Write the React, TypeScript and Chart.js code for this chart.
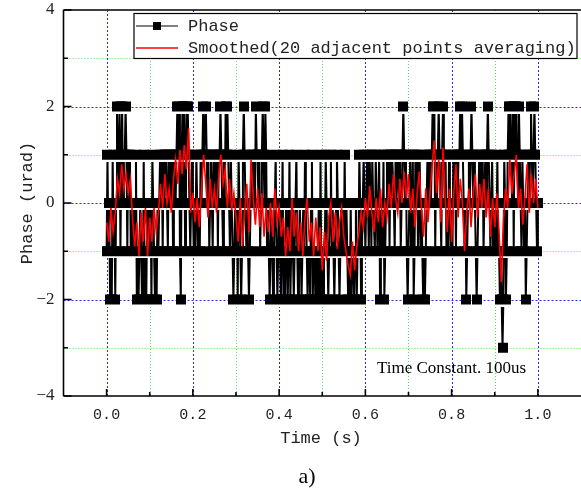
import React, { useEffect, useRef } from "react";
import { Chart, registerables } from "chart.js";

Chart.register(...registerables);

// ---------- data ----------
const PHASE_STEP = 0.002; // s between phase samples
const SMOOTH_STEP = 0.005; // s between smoothed samples

// Phase (urad), quantised samples, 25 per 0.05 s
const phase_000 = [-1,1,-1,0,-2,-1,-2,1,-1,0,-2,0,2,1,0,2,-1,1,2,0,1,1,2,1,-1];
const phase_005 = [1,0,1,-1,0,-1,-1,0,-1,1,-2,-1,-2,-1,0,-1,-2,-2,1,-2,-1,-2,0,-1,0];
const phase_010 = [-1,0,-2,1,0,-1,-2,-1,-2,0,-1,0,1,0,1,-1,1,0,1,1,0,-1,1,0,1];
const phase_015 = [0,1,-1,1,1,0,1,2,1,2,-1,-2,1,2,0,2,-1,1,2,2,1,0,-1,0,1];
const phase_020 = [0,-1,0,-1,1,0,-1,0,-1,1,0,1,2,1,1,2,1,0,1,-1,0,1,0,-1,1];
const phase_025 = [0,1,0,1,-1,1,1,2,1,0,-1,1,0,2,1,2,1,0,-1,1,0,-1,-2,-1,0];
const phase_030 = [-1,0,-2,1,0,-1,-2,-1,1,2,1,0,-1,0,-1,-2,-1,0,1,0,1,1,0,2,1];
const phase_035 = [1,0,1,-1,0,1,2,1,0,2,1,-1,0,-1,-2,-1,0,-1,-2,-1,0,1,-1,-2,-1];
const phase_040 = [0,-1,-2,-1,1,-2,-1,-2,0,-1,-2,-1,1,-2,-1,0,-1,-2,-1,0,1,-1,-2,-1,0];
const phase_045 = [-1,-2,-1,0,-1,1,0,-1,-2,-1,-1,-2,0,1,-2,-1,-1,-2,-1,-2,-1,0,-2,1,-2];
const phase_050 = [-1,-2,-1,-1,1,0,-1,-2,-1,0,1,-1,0,-1,-2,-1,0,1,0,-1,-2,-1,0,-1,0];
const phase_055 = [-1,1,-1,0,-1,-2,-1,-2,0,-2,-1,-1,-2,-1,0,-2,-1,-1,1,0,-2,-1,0,1,0];
const phase_060 = [-1,0,1,0,-1,1,0,-1,1,0,0,-1,1,0,-1,0,1,-2,-1,0,-1,1,-2,-1,0];
const phase_065 = [1,0,1,-1,1,0,1,1,0,-1,1,0,1,1,0,1,-1,0,1,2,1,0,1,-1,-2];
const phase_070 = [-1,0,1,-1,0,1,-2,-1,1,0,1,-1,0,1,-1,0,-1,-2,-1,-2,-1,0,1,0,1];
const phase_075 = [1,0,1,2,1,2,-1,1,0,1,2,1,0,-1,1,2,1,0,1,-1,0,-1,1,0,-1];
const phase_080 = [0,-1,1,0,1,-1,1,0,1,1,2,1,2,1,0,-1,0,-2,-1,0,1,0,1,2,1];
const phase_085 = [0,1,0,-1,-2,-1,0,1,0,1,0,1,-1,0,1,0,1,2,1,0,-1,0,1,-1,0];
const phase_090 = [-1,0,-1,1,-1,-1,-2,-1,-2,-3,-2,1,0,-2,-1,1,2,1,2,1,0,2,-1,2,1];
const phase_095 = [2,1,0,2,1,0,-1,1,0,-1,0,-2,-1,0,1,0,1,2,1,0,1,2,1,0,-1,0];

// Smoothed (20 adjacent points averaging), 20 per 0.1 s
const smooth_00 = [-0.4,-0.8,-0.1,-0.6,-0.2,0.5,0.2,0.8,0.3,0.6,0.2,0.5,-0.3,-0.9,-0.4,-1.1,-0.2,-0.8,-0.1,-1.1];
const smooth_01 = [-0.3,-0.8,-0.1,-0.6,-0.2,0.4,-0.1,0.6,0.0,0.3,-0.2,0.5,0.9,0.4,1.1,0.6,1.2,0.7,1.55,-0.2];
const smooth_02 = [0.2,-0.4,0.1,-0.5,0.3,1.0,0.4,-0.3,0.5,-0.1,0.3,-0.2,0.6,1.0,0.4,0.7,-0.1,0.5,-0.15,0.2];
const smooth_03 = [-0.3,-0.8,0.1,-0.9,-0.2,0.4,-0.6,0.9,0.1,-0.45,0.3,-0.5,0.2,-0.7,-0.1,-0.6,0.0,-0.7,0.3,-0.4];
const smooth_04 = [-0.1,-0.7,-0.3,-1.1,-0.5,-1.0,0.1,-0.7,-0.2,-1.0,-0.4,-1.1,-0.3,0.1,-0.8,-0.4,-1.1,-0.3,-1.0,-0.5];
const smooth_05 = [-1.4,-0.6,-1.2,-0.3,0.0,-0.8,-0.2,-0.95,-0.4,-0.1,-0.7,-1.0,-1.3,-1.5,-0.8,-1.4,-0.9,-0.6,-0.2,-0.5];
const smooth_06 = [0.1,-0.3,0.35,-0.2,-0.6,0.1,-0.4,0.3,-0.5,0.0,-0.3,0.4,-0.1,0.6,0.1,-0.2,0.5,0.0,0.65,0.1];
const smooth_07 = [0.6,-0.2,0.3,-0.5,0.2,0.65,-0.1,-0.7,0.3,-0.4,0.2,0.8,1.3,0.2,0.9,-0.4,1.15,0.1,-0.6,0.3];
const smooth_08 = [-0.8,0.2,0.8,-0.3,0.5,0.0,-1.0,-0.2,0.3,-0.5,0.2,0.6,-0.3,0.4,-0.1,0.5,-0.3,0.3,-0.7,0.1];
const smooth_09 = [-0.5,0.2,-0.6,-1.64,-0.4,0.3,-0.1,0.9,0.2,0.6,1.0,-0.1,0.3,-0.45,0.1,0.8,-0.2,0.6,0.0,0.5,-0.1];

// axes
const X_MIN = -0.1;
const X_MAX = 1.1;
const Y_MIN = -4;
const Y_MAX = 4;
const X_TICKS = [0, 0.2, 0.4, 0.6, 0.8, 1.0];
const X_MINOR = [0.1, 0.3, 0.5, 0.7, 0.9];
const Y_TICKS = [-4, -2, 0, 2, 4];
const Y_MINOR = [-3, -1, 1, 3];
const Y_GRID_MAJOR = [-2, 0, 2];

const SERIES_PHASE = "Phase";
const SERIES_SMOOTH = "Smoothed(20 adjacent points averaging)";
const X_TITLE = "Time (s)";
const Y_TITLE = "Phase (urad)";
const NOTE = "Time Constant. 100us";
const CAPTION = "a)";

const phaseValues = [
  ...phase_000, ...phase_005, ...phase_010, ...phase_015, ...phase_020,
  ...phase_025, ...phase_030, ...phase_035, ...phase_040, ...phase_045,
  ...phase_050, ...phase_055, ...phase_060, ...phase_065, ...phase_070,
  ...phase_075, ...phase_080, ...phase_085, ...phase_090, ...phase_095,
];
const smoothValues = [
  ...smooth_00, ...smooth_01, ...smooth_02, ...smooth_03, ...smooth_04,
  ...smooth_05, ...smooth_06, ...smooth_07, ...smooth_08, ...smooth_09,
];

const MONO = '"Liberation Mono", "DejaVu Sans Mono", monospace';
const SERIF = '"Liberation Serif", "DejaVu Serif", serif';

function fmtY(v: number) {
  return v < 0 ? "\u2212" + Math.abs(v) : String(v);
}

function makeMarker() {
  const c = document.createElement("canvas");
  c.width = 10;
  c.height = 14;
  const g = c.getContext("2d")!;
  g.fillStyle = "#000";
  g.fillRect(0, 2, 10, 10);
  g.fillStyle = "#fff";
  g.fillRect(0, 12, 10, 2);
  return c;
}

const decorPlugin = {
  id: "decor",
  beforeDatasetsDraw(chart: any) {
    const { ctx, chartArea: a, scales } = chart;
    const xs = scales.x;
    const ys = scales.y;
    ctx.save();
    ctx.lineWidth = 1;
    ctx.strokeStyle = "#55dd55";
    ctx.setLineDash([1, 2]);
    for (const v of X_MINOR) {
      const px = Math.round(xs.getPixelForValue(v)) + 0.5;
      ctx.beginPath(); ctx.moveTo(px, a.top); ctx.lineTo(px, a.bottom); ctx.stroke();
    }
    for (const v of Y_MINOR) {
      const py = Math.round(ys.getPixelForValue(v)) + 0.5;
      ctx.beginPath(); ctx.moveTo(a.left, py); ctx.lineTo(a.right, py); ctx.stroke();
    }
    ctx.strokeStyle = "#2a2aff";
    ctx.setLineDash([2, 2]);
    for (const v of X_TICKS) {
      const px = Math.round(xs.getPixelForValue(v)) + 0.5;
      ctx.beginPath(); ctx.moveTo(px, a.top); ctx.lineTo(px, a.bottom); ctx.stroke();
    }
    for (const v of Y_GRID_MAJOR) {
      const py = Math.round(ys.getPixelForValue(v)) + 0.5;
      ctx.beginPath(); ctx.moveTo(a.left, py); ctx.lineTo(a.right, py); ctx.stroke();
    }
    ctx.restore();
  },
  afterDatasetsDraw(chart: any) {
    const { ctx, chartArea: a, scales } = chart;
    const xs = scales.x;
    const ys = scales.y;
    ctx.save();
    ctx.setLineDash([]);
    ctx.strokeStyle = "#000";
    ctx.lineWidth = 1.6;
    ctx.beginPath();
    ctx.moveTo(a.left, a.top); ctx.lineTo(a.right + 2, a.top);
    ctx.moveTo(a.left, a.top); ctx.lineTo(a.left, a.bottom);
    ctx.moveTo(a.left, a.bottom); ctx.lineTo(a.right + 2, a.bottom);
    ctx.stroke();
    ctx.beginPath();
    for (const v of Y_TICKS) {
      const py = ys.getPixelForValue(v);
      ctx.moveTo(a.left, py); ctx.lineTo(a.left + 8, py);
    }
    for (const v of Y_MINOR) {
      const py = ys.getPixelForValue(v);
      ctx.moveTo(a.left, py); ctx.lineTo(a.left + 4.5, py);
    }
    for (const v of X_TICKS) {
      const px = xs.getPixelForValue(v);
      ctx.moveTo(px, a.bottom); ctx.lineTo(px, a.bottom - 7);
    }
    for (const v of X_MINOR) {
      const px = xs.getPixelForValue(v);
      ctx.moveTo(px, a.bottom); ctx.lineTo(px, a.bottom - 4);
    }
    ctx.stroke();

    // legend box
    const lx = a.left + 70.5;
    const ly = a.top + 3.5;
    const lw = 443;
    const lh = 45;
    ctx.fillStyle = "#fff";
    ctx.fillRect(lx, ly, lw, lh);
    ctx.lineWidth = 1.2;
    ctx.strokeStyle = "#000";
    ctx.strokeRect(lx, ly, lw, lh);
    const r1 = ly + 12.5;
    const r2 = ly + 34.5;
    ctx.lineWidth = 1;
    ctx.beginPath(); ctx.moveTo(lx + 2, r1); ctx.lineTo(lx + 44, r1); ctx.stroke();
    ctx.fillStyle = "#000";
    ctx.fillRect(lx + 19, r1 - 4, 8, 8);
    ctx.strokeStyle = "#ff0000";
    ctx.lineWidth = 1.5;
    ctx.beginPath(); ctx.moveTo(lx + 2, r2); ctx.lineTo(lx + 44, r2); ctx.stroke();
    ctx.fillStyle = "#222";
    ctx.font = '17px ' + MONO;
    ctx.textBaseline = "middle";
    ctx.textAlign = "left";
    ctx.fillText(SERIES_PHASE, lx + 54, r1 + 0.5);
    ctx.fillText(SERIES_SMOOTH, lx + 54, r2 + 0.5);

    ctx.fillStyle = "#000";
    ctx.font = '17px ' + SERIF;
    ctx.fillText(NOTE, 377, 369);
    ctx.restore();
  },
  afterDraw(chart: any) {
    const { ctx, chartArea: a } = chart;
    ctx.save();
    ctx.fillStyle = "#222";
    ctx.textBaseline = "middle";
    ctx.textAlign = "center";
    ctx.font = '17px ' + MONO;
    ctx.fillText(X_TITLE, 321, 438);
    ctx.save();
    ctx.translate(27, (a.top + a.bottom) / 2);
    ctx.rotate(-Math.PI / 2);
    ctx.fillText(Y_TITLE, 0, 0);
    ctx.restore();
    ctx.fillStyle = "#000";
    ctx.font = '22px ' + SERIF;
    ctx.fillText(CAPTION, 307, 477);
    ctx.restore();
  },
};

export default function App() {
  const ref = useRef<HTMLCanvasElement | null>(null);
  useEffect(() => {
    document.body.style.margin = "0";
    document.body.style.overflow = "hidden";
    const canvas = ref.current;
    if (!canvas) return;
    const marker = makeMarker();
    const phaseData = phaseValues.map((y, i) => ({ x: i * PHASE_STEP, y }));
    const smoothData = smoothValues.map((y, i) => ({ x: i * SMOOTH_STEP, y }));
    const chart = new Chart(canvas, {
      type: "line",
      data: {
        datasets: [
          {
            label: SERIES_PHASE,
            data: phaseData,
            borderColor: "#000",
            backgroundColor: "#000",
            borderWidth: 2,
            pointStyle: marker as any,
            pointRadius: 5,
            tension: 0,
            order: 1,
          },
          {
            label: SERIES_SMOOTH,
            data: smoothData,
            borderColor: "#ff0000",
            borderWidth: 1.6,
            pointRadius: 0,
            tension: 0,
            order: 0,
          },
        ],
      },
      options: {
        responsive: false,
        animation: false,
        events: [],
        layout: { autoPadding: false, padding: { left: 0, right: -1, top: 10, bottom: 0 } },
        plugins: { legend: { display: false }, tooltip: { enabled: false } },
        scales: {
          x: {
            type: "linear",
            min: X_MIN,
            max: X_MAX,
            grid: { display: false, drawTicks: false },
            border: { display: false },
            afterBuildTicks: (s: any) => { s.ticks = X_TICKS.map((v) => ({ value: v })); },
            afterFit: (s: any) => { s.height = 97; s.paddingLeft = 0; s.paddingRight = 0; },
            ticks: {
              padding: 10,
              autoSkip: false,
              maxRotation: 0,
              color: "#222",
              font: { family: MONO, size: 15 },
              callback: (v: any) => Number(v).toFixed(1),
            },
          },
          y: {
            type: "linear",
            min: Y_MIN,
            max: Y_MAX,
            grid: { display: false, drawTicks: false },
            border: { display: false },
            afterBuildTicks: (s: any) => { s.ticks = Y_TICKS.map((v) => ({ value: v })); },
            afterFit: (s: any) => { s.width = 63.5; s.paddingTop = 0; s.paddingBottom = 0; },
            ticks: {
              padding: 9,
              color: "#222",
              font: { family: SERIF, size: 17 },
              callback: (v: any) => fmtY(Number(v)),
            },
          },
        },
      },
      plugins: [decorPlugin],
    });
    return () => chart.destroy();
  }, []);
  return (
    <div style={{ width: 581, height: 493, background: "#fff" }}>
      <canvas ref={ref} width={581} height={493} style={{ display: "block", width: 581, height: 493 }} />
    </div>
  );
}
